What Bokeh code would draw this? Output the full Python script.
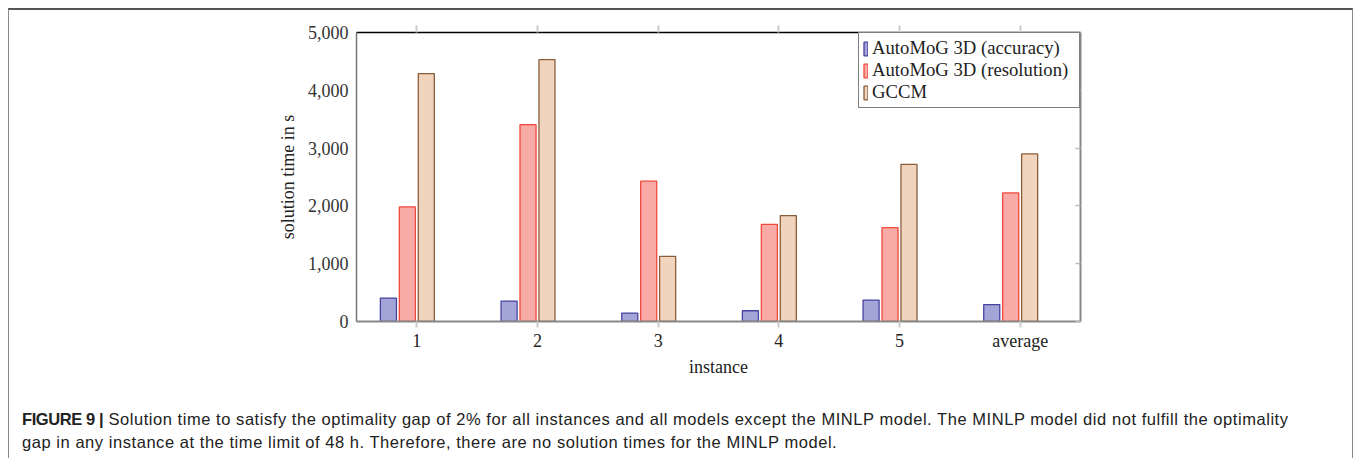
from bokeh.plotting import figure
from bokeh.layouts import column
from bokeh.models import (ColumnDataSource, Range1d, FixedTicker,
                          NumeralTickFormatter, LinearAxis, Div)
from bokeh.transform import dodge
from bokeh.embed import file_html
from bokeh.resources import INLINE

# solution times in seconds per instance
instances = ["1", "2", "3", "4", "5", "average"]
automog_accuracy = [406, 354, 146, 186, 371, 293]
automog_resolution = [1983, 3405, 2427, 1682, 1624, 2224]
gccm = [4289, 4532, 1127, 1833, 2717, 2900]
y_ticks = [0, 1000, 2000, 3000, 4000, 5000]

series_names = ["AutoMoG 3D (accuracy)", "AutoMoG 3D (resolution)", "GCCM"]

caption_head = "FIGURE 9 |"
caption_line1 = ("Solution time to satisfy the optimality gap of 2% for all instances and all "
                 "models except the MINLP model. The MINLP model did not fulfill the optimality")
caption_line2 = ("gap in any instance at the time limit of 48 h. Therefore, there are no "
                 "solution times for the MINLP model.")

SERIF = "Liberation Serif"
SANS = "Liberation Sans"

# page box: content starts 9 px from the left and 10 px from the top
W = 1343
MAIN_H = 380
CAP_H = 68

group_pos = list(range(len(instances)))
src = ColumnDataSource(dict(pos=group_pos, acc=automog_accuracy,
                            res=automog_resolution, gccm=gccm))

p = figure(width=W, height=MAIN_H, x_range=Range1d(-0.5, len(instances) - 0.5),
           y_range=Range1d(0, 5000), output_backend="svg", toolbar_location=None,
           min_border_left=347, min_border_right=272, min_border_top=22,
           min_border_bottom=69, x_axis_label="instance",
           y_axis_label="solution time in s")
p.outline_line_color = None
p.grid.visible = False
p.background_fill_color = "white"
p.border_fill_color = "white"

# grouped bars: four slots per group, the fourth model has no times
slot = 0.157
bw = 0.133
styles = [
    ("acc", -1.5 * slot, "#a3a5d6", "#4743a0"),
    ("res", -0.5 * slot, "#f7aaa6", "#ef4a3c"),
    ("gccm", 0.5 * slot, "#f0d4be", "#8a5d3b"),
]
for (col, off, fill, line), name in zip(styles, series_names):
    p.vbar(x=dodge("pos", off), top=col, width=bw, source=src,
           fill_color=fill, line_color=line, line_width=1.3, legend_label=name)

# left axis
ya = p.yaxis[0]
ya.ticker = FixedTicker(ticks=y_ticks)
ya.formatter = NumeralTickFormatter(format="0,0")
ya.axis_line_color = "#777777"
ya.axis_line_width = 1.5
ya.major_tick_in = 0
ya.major_tick_out = 0
ya.minor_tick_in = 0
ya.minor_tick_out = 0
ya.major_label_standoff = 8
ya.major_label_text_font = SERIF
ya.major_label_text_font_size = "18px"
ya.major_label_text_color = "#333333"
ya.axis_label_text_font = SERIF
ya.axis_label_text_font_size = "18px"
ya.axis_label_text_font_style = "normal"
ya.axis_label_text_color = "#222222"
ya.axis_label_standoff = 7

# bottom axis, one tick per instance
xa = p.xaxis[0]
xa.ticker = FixedTicker(ticks=group_pos)
xa.major_label_overrides = {i: name for i, name in zip(group_pos, instances)}
xa.axis_line_color = "#888888"
xa.axis_line_width = 2
xa.major_tick_in = 0
xa.major_tick_out = 6
xa.minor_tick_in = 0
xa.minor_tick_out = 0
xa.major_tick_line_color = "#cccccc"
xa.major_tick_line_width = 2
xa.major_label_standoff = 3
xa.major_label_text_font = SERIF
xa.major_label_text_font_size = "18px"
xa.major_label_text_color = "#222222"
xa.axis_label_text_font = SERIF
xa.axis_label_text_font_size = "18px"
xa.axis_label_text_font_style = "normal"
xa.axis_label_text_color = "#222222"
xa.axis_label_standoff = 3

# top and right frame edges with their ticks, no labels
top_axis = LinearAxis(ticker=FixedTicker(ticks=group_pos),
                      axis_line_color="black", axis_line_width=1.5,
                      major_tick_in=0, major_tick_out=7,
                      major_tick_line_color="#cccccc", major_tick_line_width=2,
                      minor_tick_in=0, minor_tick_out=0,
                      major_label_standoff=0, major_label_text_font_size="8px",
                      major_label_overrides={i: "" for i in group_pos})
p.add_layout(top_axis, "above")
right_axis = LinearAxis(ticker=FixedTicker(ticks=y_ticks), axis_line_color="#888888",
                        axis_line_width=2, major_tick_in=5, major_tick_out=0,
                        major_tick_line_color="#bbbbbb", major_tick_line_width=1.5,
                        minor_tick_in=0, minor_tick_out=0, major_label_standoff=0,
                        major_label_text_font_size="8px",
                        major_label_overrides={t: "" for t in y_ticks})
p.add_layout(right_axis, "right")

# legend
lg = p.legend[0]
lg.location = "top_right"
lg.margin = 0
lg.padding = 4
lg.spacing = 0
lg.border_line_color = "black"
lg.border_line_width = 1
lg.background_fill_color = "white"
lg.background_fill_alpha = 1
lg.glyph_width = 5
lg.glyph_height = 17
lg.label_height = 21
lg.label_width = 203
lg.label_standoff = 4
lg.label_text_font = SERIF
lg.label_text_font_size = "18.7px"
lg.label_text_color = "#222222"

# caption below the chart
cap_html = (
    f'<div style="font-family: \'{SANS}\'; font-size: 16.5px; letter-spacing: 0.55px; '
    f'line-height: 23px; color: #222222; padding: 18px 0 0 13px; margin: 0; '
    f'white-space: nowrap;">'
    f'<b style="letter-spacing: -0.4px;">{caption_head}</b> {caption_line1}<br>'
    f'{caption_line2}</div>'
)
cap = Div(text=cap_html, width=W, height=CAP_H, styles={"margin": "0", "padding": "0"})

page = column(p, cap, styles={"margin-left": "8px", "margin-top": "8px",
                              "border-top": "2px solid #555555",
                              "border-left": "1px solid #8a8a8a",
                              "border-right": "1px solid #8a8a8a"})

open("out.html", "w").write(file_html(page, INLINE))
